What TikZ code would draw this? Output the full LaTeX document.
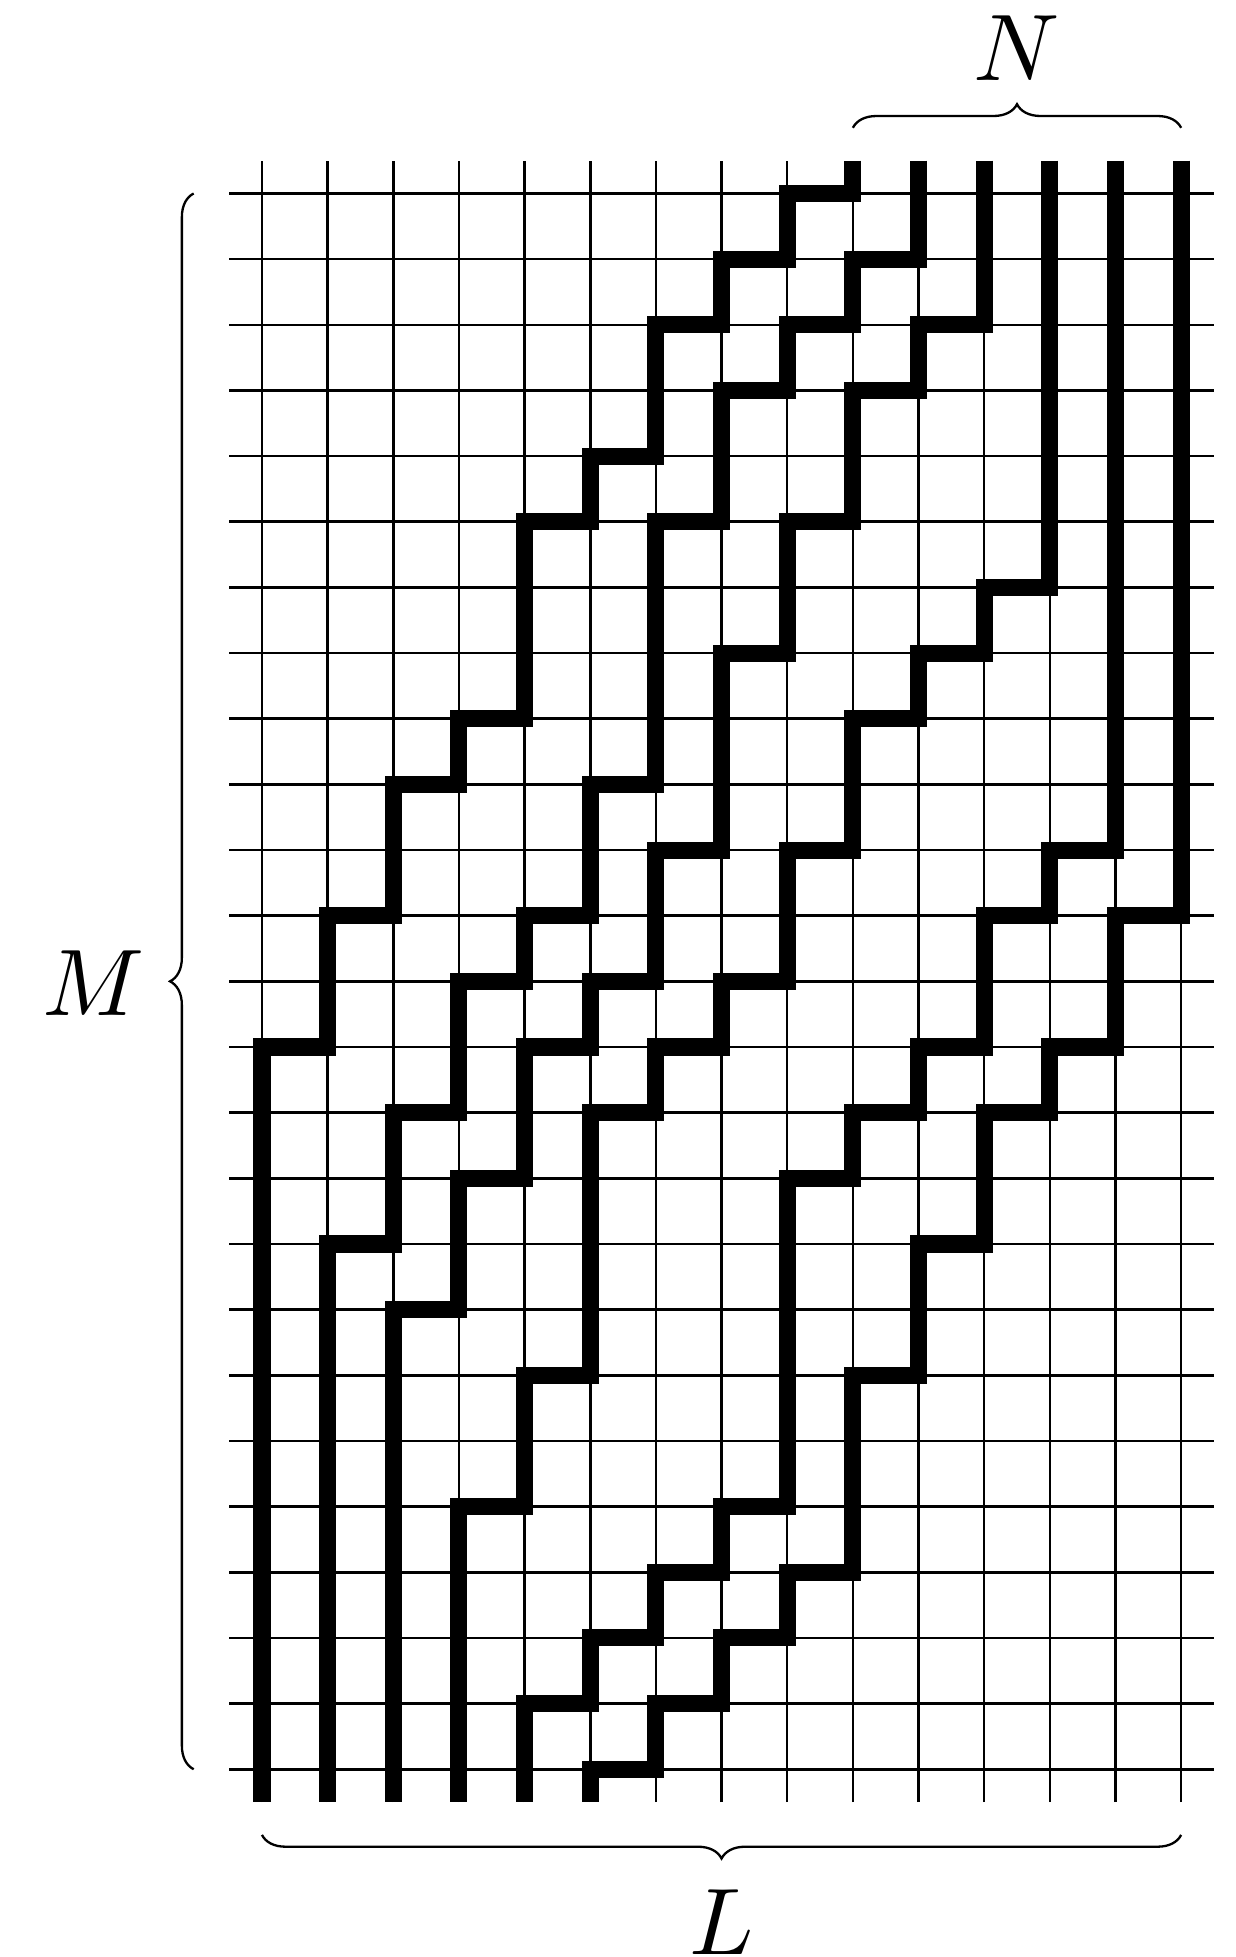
\documentclass[tikz,border=0pt]{standalone}
\usepackage{amsmath,amssymb}
\usetikzlibrary{decorations.pathreplacing}

\tikzset{
  gridline/.style={line width=1.1pt},
  walk/.style={line width=7.4pt, line join=miter, line cap=butt},
  bracket/.style={line width=1pt, decorate, decoration={brace, amplitude=0.36cm}},
  bigsym/.style={scale=4.1}
}

\begin{document}
\begin{tikzpicture}
    \useasboundingbox (-3.99,-26.86) rectangle (14.83,2.947);

    % lattice
    \draw [gridline] (-0.5,-24.5) grid (14.5,0.5);

    % the six paths
    \draw [walk] (9,0.5) |- (8,0) |- (7,-1) |- (6,-2) |- (5,-4) |- (4,-5) |- (3,-8) |- (2,-9) |- (1,-11) |- (0,-13) -- (0,-24.5);
    \draw [walk] (10,0.5) |- (9,-1) |- (8,-2) |- (7,-3) |- (6,-5) |- (5,-9) |- (4,-11) |- (3,-12) |- (2,-14) |- (1,-16) -- (1,-24.5);
    \draw [walk] (11,0.5) |- (10,-2) |- (9,-3) |- (8,-5) |- (7,-7) |- (6,-10) |- (5,-12) |- (4,-13) |- (3,-15) |- (2,-17) -- (2,-24.5);
    \draw [walk] (12,0.5) |- (11,-6) |- (10,-7) |- (9,-8) |- (8,-10) |- (7,-12) |- (6,-13) |- (5,-14) |- (4,-18) |- (3,-20) -- (3,-24.5);
    \draw [walk] (13,0.5) |- (12,-10) |- (11,-11) |- (10,-13) |- (9,-14) |- (8,-15) |- (7,-20) |- (6,-21) |- (5,-22) |- (4,-23) -- (4,-24.5);
    \draw [walk] (14,0.5) |- (13,-11) |- (12,-13) |- (11,-14) |- (10,-16) |- (9,-18) |- (8,-21) |- (7,-22) |- (6,-23) |- (5,-24) -- (5,-24.5);

    % braces
    \draw [bracket] (9,1) -- (14,1);
    \draw [bracket] (-1.04,-24) -- (-1.04,0);
    \draw [bracket] (14,-25) -- (0,-25);

    \node [bigsym] (lblN) at (11.5,2.22) {$N$};
    \node [bigsym] (lblM) at (-2.57,-12.02) {$M$};
    \node [bigsym] (lblL) at (7,-26.33) {$L$};
\end{tikzpicture}
\end{document}
